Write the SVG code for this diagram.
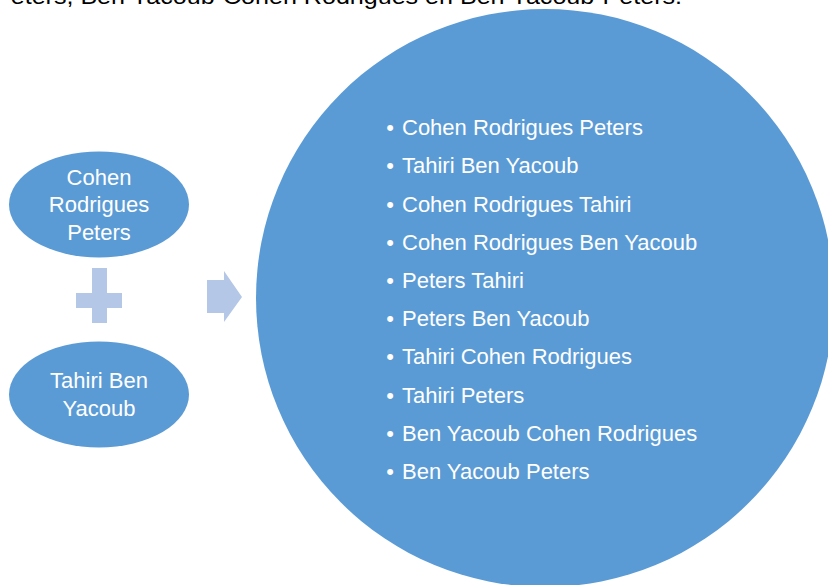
<svg xmlns="http://www.w3.org/2000/svg" width="828" height="585" viewBox="0 0 828 585">
  <style>
    .node { fill: #5B9BD5; }
    .conn { fill: #B4C7E7; }
    .lbl { font-family: "Liberation Sans", Arial, sans-serif; font-size: 22px; fill: #FFFFFF; }
    .mid { text-anchor: middle; }
    .top { font-family: "Liberation Sans", Arial, sans-serif; font-size: 22px; fill: #000000; }
  </style>
  <rect x="0" y="0" width="828" height="585" fill="#FFFFFF"/>
  <text class="top" x="-6" y="4" textLength="688" lengthAdjust="spacingAndGlyphs">Peters, Ben Yacoub-Cohen Rodrigues en Ben Yacoub-Peters.</text>

  <g id="result">
    <circle class="node" cx="545" cy="298" r="289"/>
    <g class="lbl">
      <text x="390" y="135" class="mid">•</text><text x="402" y="135">Cohen Rodrigues Peters</text>
      <text x="390" y="173" class="mid">•</text><text x="402" y="173">Tahiri Ben Yacoub</text>
      <text x="390" y="212" class="mid">•</text><text x="402" y="212">Cohen Rodrigues Tahiri</text>
      <text x="390" y="250" class="mid">•</text><text x="402" y="250">Cohen Rodrigues Ben Yacoub</text>
      <text x="390" y="288" class="mid">•</text><text x="402" y="288">Peters Tahiri</text>
      <text x="390" y="326" class="mid">•</text><text x="402" y="326">Peters Ben Yacoub</text>
      <text x="390" y="364" class="mid">•</text><text x="402" y="364">Tahiri Cohen Rodrigues</text>
      <text x="390" y="403" class="mid">•</text><text x="402" y="403">Tahiri Peters</text>
      <text x="390" y="441" class="mid">•</text><text x="402" y="441">Ben Yacoub Cohen Rodrigues</text>
      <text x="390" y="479" class="mid">•</text><text x="402" y="479">Ben Yacoub Peters</text>
    </g>
  </g>

  <g id="node-crp">
    <ellipse class="node" cx="99" cy="204.5" rx="90" ry="53"/>
    <text class="lbl mid" x="99" y="185">Cohen</text>
    <text class="lbl mid" x="99" y="212">Rodrigues</text>
    <text class="lbl mid" x="99" y="240">Peters</text>
  </g>

  <g id="node-tby">
    <ellipse class="node" cx="99" cy="394.5" rx="90" ry="53"/>
    <text class="lbl mid" x="99" y="388">Tahiri Ben</text>
    <text class="lbl mid" x="99" y="416">Yacoub</text>
  </g>

  <g id="connectors">
    <path id="plus" class="conn" d="M92,268 H107 V293 H122 V308 H107 V323 H92 V308 H76 V293 H92 Z"/>
    <path id="arrow" class="conn" d="M207,280 H224 V271 L242,297 L224,322 V313 H207 Z"/>
  </g>
</svg>
